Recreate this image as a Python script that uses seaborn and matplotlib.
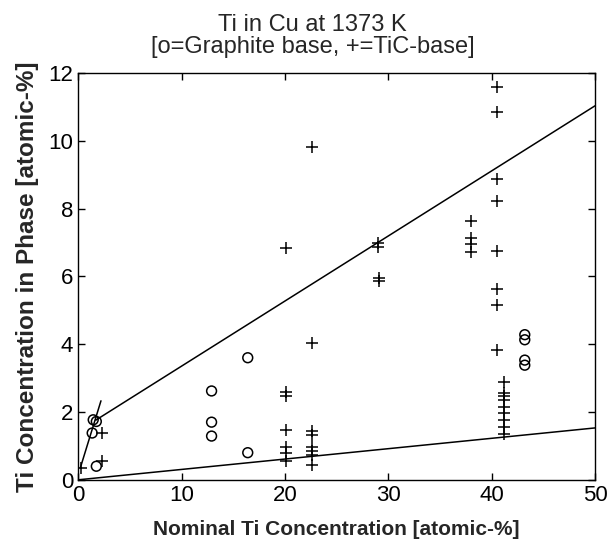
import numpy as np
import pandas as pd
import matplotlib
matplotlib.use("Agg")
import matplotlib.pyplot as plt
import seaborn as sns

# graphite base samples (o)
graphite_x = [1.45, 1.75, 1.35, 1.75, 12.9, 12.9, 12.9, 16.4, 16.4,
              43.2, 43.2, 43.2, 43.2]
graphite_y = [1.77, 1.72, 1.38, 0.40, 2.62, 1.70, 1.29, 3.60, 0.80,
              4.28, 4.13, 3.53, 3.38]

# TiC base samples (+)
tic_x = [0.25, 2.3, 2.3,
         20.1, 20.1, 20.1, 20.1, 20.1, 20.1, 20.1,
         22.6, 22.6, 22.6, 22.6, 22.6, 22.6, 22.6, 22.6,
         29.0, 29.0, 29.1, 29.1,
         38.0, 38.0, 38.0, 38.0,
         40.5, 40.5, 40.5, 40.5, 40.5, 40.5, 40.5, 40.5,
         41.2, 41.2, 41.2, 41.2, 41.2, 41.2, 41.2, 41.2, 41.2]
tic_y = [0.35, 1.38, 0.55,
         6.84, 2.58, 2.48, 1.48, 0.98, 0.80, 0.55,
         9.80, 4.03, 1.45, 1.33, 0.98, 0.84, 0.74, 0.45,
         6.98, 6.88, 5.95, 5.85,
         7.62, 7.12, 6.95, 6.72,
         11.58, 10.86, 8.88, 8.22, 6.75, 5.62, 5.15, 3.83,
         2.88, 2.56, 2.46, 2.36, 2.16, 1.96, 1.76, 1.55, 1.36]

# fitted lines (end points)
upper_x = [1.7, 50.0]
upper_y = [1.76, 11.03]
lower_x = [0.0, 50.0]
lower_y = [0.0, 1.53]
steep_x = [0.2, 2.2]
steep_y = [0.35, 2.33]

sns.set_style("white")
plt.rcParams['font.family'] = ['Liberation Sans', 'DejaVu Sans']
plt.rcParams['xtick.direction'] = 'in'
plt.rcParams['ytick.direction'] = 'in'

fig = plt.figure(figsize=(6.16, 5.44), dpi=100)
ax = fig.add_axes([0.127, 0.118, 0.839, 0.748])

for lx, ly in [(upper_x, upper_y), (lower_x, lower_y), (steep_x, steep_y)]:
    ax.plot(lx, ly, color='black', linewidth=1.1)

gdf = pd.DataFrame({"x": graphite_x, "y": graphite_y})
tdf = pd.DataFrame({"x": tic_x, "y": tic_y})
sns.scatterplot(data=gdf, x="x", y="y", ax=ax, marker='o', s=50,
                facecolor='none', edgecolor='black', linewidth=1.1)
sns.scatterplot(data=tdf, x="x", y="y", ax=ax, marker='+', s=70,
                color='black', linewidth=1.1)

ax.set_xlim(0, 50)
ax.set_ylim(0, 12)
ax.set_xticks(np.arange(0, 51, 10))
ax.set_yticks(np.arange(0, 13, 2))
ax.tick_params(labelsize=16, length=5, width=1, colors='black',
               top=True, right=True, bottom=True, left=True)
for sp in ax.spines.values():
    sp.set_color('black')
    sp.set_linewidth(1)

ax.set_title("Ti in Cu at 1373 K\n[o=Graphite base, +=TiC-base]",
             fontsize=17, pad=14, linespacing=1.0, x=0.453)
ax.set_xlabel("Nominal Ti Concentration [atomic-%]", fontsize=15,
              fontweight='bold', labelpad=10)
ax.set_ylabel("Ti Concentration in Phase [atomic-%]", fontsize=17.5,
              fontweight='bold', labelpad=7)

fig.savefig("out.png", dpi=100, facecolor='white')
